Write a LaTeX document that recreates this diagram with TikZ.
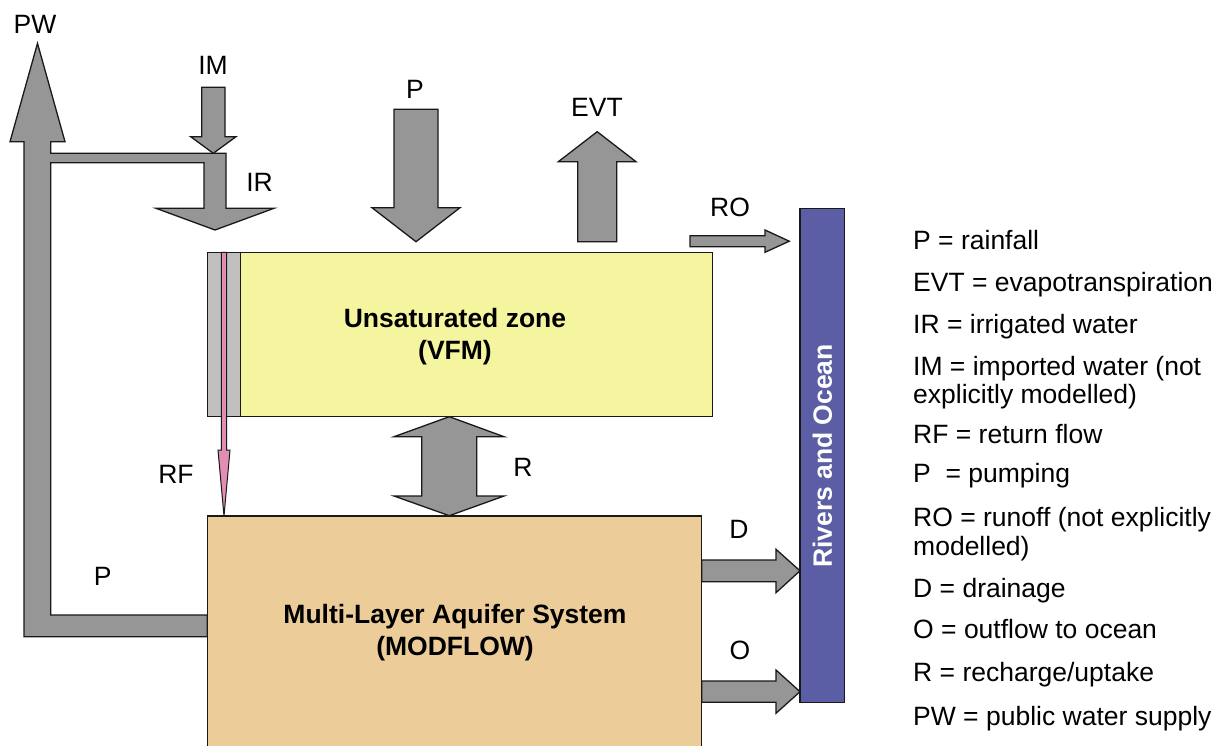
\documentclass[tikz,border=0pt]{standalone}
\usepackage{fontspec}
\setmainfont{Liberation Sans}
\definecolor{arrowgray}{RGB}{150,150,150}
\definecolor{edgecol}{RGB}{25,25,25}
\definecolor{yellowzone}{RGB}{245,245,160}
\definecolor{stripgray}{RGB}{192,192,192}
\definecolor{pinkrf}{RGB}{226,142,178}
\definecolor{tanzone}{RGB}{236,205,153}
\definecolor{riverblue}{RGB}{92,94,165}
\begin{document}
\begin{tikzpicture}[x=1pt,y=-1pt,
  ln/.style={draw=edgecol,line width=1.3pt,line join=miter},
  barrow/.style={ln,fill=arrowgray},
  lbl/.style={anchor=base,inner sep=0pt,font=\fontsize{26.5}{28}\selectfont},
  leg/.style={anchor=base west,inner sep=0pt,font=\fontsize{26.5}{28}\selectfont},
  boldlbl/.style={anchor=base,inner sep=0pt,font=\fontsize{26.5}{32}\selectfont\bfseries},
  zonebox/.style={ln,rectangle,anchor=north west,inner sep=0pt,outer sep=0pt}]
\clip (0,0) rectangle (1227,745);

% pumping / public water / irrigation pipe
\draw[barrow] (37.5,43.3) -- (65,141.7) -- (50.7,141.7) -- (50.7,153.3) -- (226,153.3)
  -- (226,208.3) -- (274,208.3) -- (215,230) -- (156,208.3) -- (204,208.3)
  -- (204,162.7) -- (50.7,162.7) -- (50.7,615) -- (207.3,615) -- (207.3,636.7)
  -- (24,636.7) -- (24,141.7) -- (10,141.7) -- cycle;

% IM arrow
\draw[barrow] (201.7,87.3) -- (225,87.3) -- (225,136.7) -- (236,136.7) -- (213.3,153.3)
  -- (190.7,136.7) -- (201.7,136.7) -- cycle;

% zones
\node[zonebox,fill=yellowzone,minimum width=505pt,minimum height=164.4pt] (vfm) at (207.3,252.3) {};
\node[zonebox,fill=stripgray,minimum width=33.4pt,minimum height=164.4pt] (strip) at (207.3,252.3) {};
\node[zonebox,fill=tanzone,minimum width=494.4pt,minimum height=260pt] (mod) at (207.3,516) {};

% P (rainfall)
\draw[barrow] (394,109.3) -- (438,109.3) -- (438,207.7) -- (460,207.7) -- (416,241.7)
  -- (372,207.7) -- (394,207.7) -- cycle;
% EVT
\draw[barrow] (577.7,241.7) -- (616.7,241.7) -- (616.7,161.7) -- (636,161.7) -- (597.2,131.7)
  -- (558.3,161.7) -- (577.7,161.7) -- cycle;
% RO
\draw[barrow] (690,235.7) -- (765,235.7) -- (765,230) -- (789.3,241.2) -- (765,252.3)
  -- (765,246.7) -- (690,246.7) -- cycle;
% R
\draw[barrow] (449.3,416.7) -- (504,436.7) -- (476.7,436.7) -- (476.7,496) -- (504,496)
  -- (449.3,515.7) -- (394,496) -- (421.7,496) -- (421.7,436.7) -- (394,436.7) -- cycle;
% D
\draw[barrow] (701.7,560) -- (776,560) -- (776,549.3) -- (800,570.8) -- (776,592.7)
  -- (776,581.7) -- (701.7,581.7) -- cycle;
% O
\draw[barrow] (701.7,681) -- (776,681) -- (776,670) -- (800,691.7) -- (776,713.3)
  -- (776,702.3) -- (701.7,702.3) -- cycle;
% RF
\draw[draw=edgecol,line width=1pt,fill=pinkrf] (221.3,252.3) -- (226.7,252.3) -- (226.7,450)
  -- (230,450) -- (224,516) -- (218,450) -- (221.3,450) -- cycle;

% rivers and ocean
\node[zonebox,fill=riverblue,minimum width=44.3pt,minimum height=494pt] (riv) at (800,208.3) {};
\node[rotate=90,text=white,inner sep=0pt,font=\fontsize{26.5}{28}\selectfont\bfseries] (rivtxt) at (822.5,456) {Rivers and Ocean};

% zone texts
\node[boldlbl] (vfm1) at (455,327.3) {Unsaturated zone};
\node[boldlbl] (vfm2) at (455,359.5) {(VFM)};
\node[boldlbl] (mod1) at (455,623.3) {Multi-Layer Aquifer System};
\node[boldlbl] (mod2) at (455,655) {(MODFLOW)};

% flow labels
\node[lbl] (lPW) at (35,33.3) {PW};
\node[lbl] (lIM) at (213,74) {IM};
\node[lbl] (lIR) at (259.5,191.7) {IR};
\node[lbl] (lP) at (415,98.3) {P};
\node[lbl] (lEVT) at (597,116.7) {EVT};
\node[lbl] (lRO) at (730,216.7) {RO};
\node[lbl] (lRF) at (176,483.3) {RF};
\node[lbl] (lR) at (523,476.7) {R};
\node[lbl] (lD) at (739,538.3) {D};
\node[lbl] (lO) at (740,659.3) {O};
\node[lbl] (lPump) at (102.7,585) {P};

% legend
\node[leg] (g1) at (913,249.5) {P = rainfall};
\node[leg] (g2) at (913,291.5) {EVT = evapotranspiration};
\node[leg] (g3) at (913,333) {IR = irrigated water};
\node[leg] (g4) at (913,375) {IM = imported water (not};
\node[leg] (g4b) at (913,403) {explicitly modelled)};
\node[leg] (g5) at (913,443) {RF = return flow};
\node[leg] (g6) at (913,482.5) {P\ \ = pumping};
\node[leg] (g7) at (913,526.5) {RO = runoff (not explicitly};
\node[leg] (g7b) at (913,555) {modelled)};
\node[leg] (g8) at (913,597) {D = drainage};
\node[leg] (g9) at (913,638.5) {O = outflow to ocean};
\node[leg] (g10) at (913,681.5) {R = recharge/uptake};
\node[leg] (g11) at (913,725) {PW = public water supply};
\end{tikzpicture}
\end{document}
